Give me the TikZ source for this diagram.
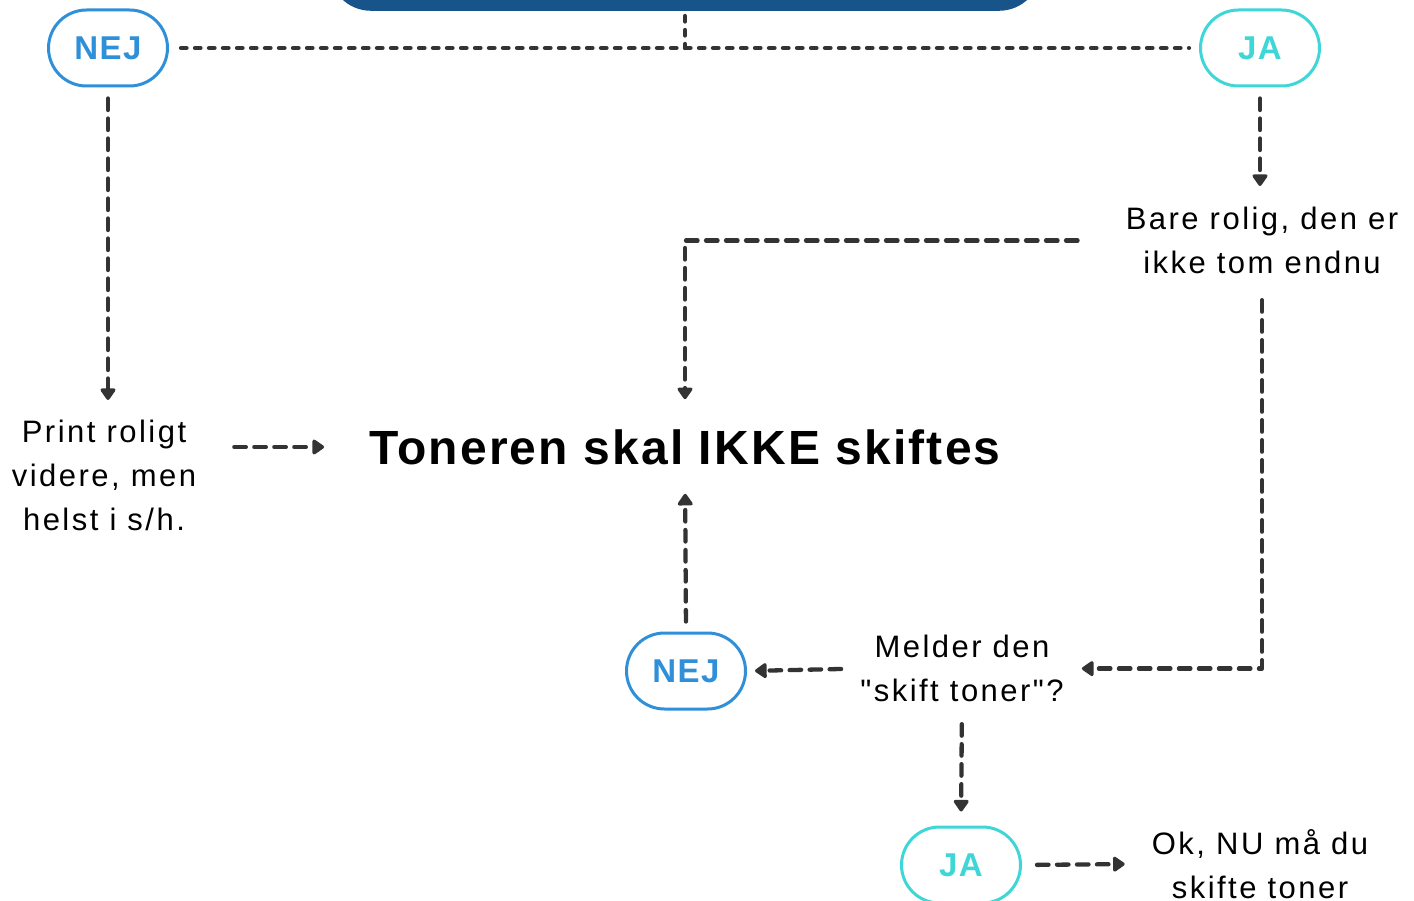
\documentclass[tikz,border=0pt]{standalone}
\usepackage{fontspec}
\setmainfont{Liberation Sans}
\newfontfamily\bodyfont[LetterSpace=8]{Liberation Sans}
\newfontfamily\boldfont[LetterSpace=4.5]{Liberation Sans Bold}
\usetikzlibrary{arrows.meta}
\definecolor{hdrblue}{RGB}{23,84,138}
\definecolor{nejblue}{RGB}{47,143,216}
\definecolor{jacyan}{RGB}{62,214,214}
\definecolor{linegray}{RGB}{51,51,51}
\begin{document}
\begin{tikzpicture}[x=1pt,y=-1pt,
  conn/.style={draw=linegray, line width=4.3pt, line cap=round, line join=round, dash pattern=on 11.5pt off 8.5pt},
  topconn/.style={draw=linegray, line width=4.3pt, line cap=round, dash pattern=on 5.5pt off 8.5pt},
  arr/.style={conn, -{Triangle[width=17pt,length=13pt,round]}},
  pill/.style={draw, line width=3pt, rounded corners=38pt, minimum width=119pt, minimum height=76pt, inner sep=0pt,
    font=\boldfont\fontsize{33}{33}\selectfont},
  nejpill/.style={pill, draw=nejblue, text=nejblue},
  japill/.style={pill, draw=jacyan, text=jacyan},
  body/.style={align=center, inner sep=0pt, font=\bodyfont\fontsize{31}{44}\selectfont, text=black},
  title/.style={inner sep=0pt, font=\boldfont\fontsize{48}{50}\selectfont, text=black}
]
\useasboundingbox (0,0) rectangle (1414,901);
\clip (0,0) rectangle (1414,901);
\node[fill=hdrblue, rounded corners=42pt, minimum width=712pt, minimum height=120pt, anchor=south, inner sep=0pt] (hdr) at (685,11) {};
\node[nejpill] (nej1) at (108,48) {NEJ};
\node[japill] (ja1) at (1260,48) {JA};
\coordinate (j1) at (685,48);
\node[body, anchor=north] (print) at (104,420) {Print roligt\\videre, men\\helst i s/h.};
\node[title] (title) at (685,447) {Toneren skal IKKE skiftes};
\node[body, anchor=north] (bare) at (1262,207) {Bare rolig, den er\\ikke tom endnu};
\node[body, anchor=north] (melder) at (962,635) {Melder den\\"skift toner"?};
\node[nejpill] (nej2) at (686,671) {NEJ};
\node[japill] (ja2) at (961,865) {JA};
\node[body, anchor=north] (ok) at (1260,829) {Ok, NU må du\\skifte toner};

\draw[topconn, shorten <=5pt] (hdr.south) -- (j1);
\draw[topconn, shorten <=12pt, shorten >=10pt] (nej1.east) -- (ja1.west);
\draw[arr, shorten <=11pt, shorten >=20pt] (nej1.south) -- (nej1.south |- print.north);
\draw[arr, shorten <=38pt, shorten >=45pt] (print.east |- title.west) -- (title.west);
\draw[arr, shorten <=11pt, shorten >=21pt] (ja1.south) -- (ja1.south |- bare.north);
\draw[arr, shorten <=48pt, shorten >=30pt] (bare.west) -| (title.north);
\draw[arr, shorten <=26pt, shorten >=18pt] (bare.south) |- (melder.east);
\draw[arr, shorten <=19pt, shorten >=8pt] (melder.west) -- (nej2.east);
\draw[arr, shorten <=10pt, shorten >=29pt] (nej2.north) -- (title.south);
\draw[arr, shorten <=22pt, shorten >=14pt] (melder.south) -- (ja2.north);
\draw[arr, shorten <=15pt, shorten >=27pt] (ja2.east) -- (ok.west);
\end{tikzpicture}
\end{document}
